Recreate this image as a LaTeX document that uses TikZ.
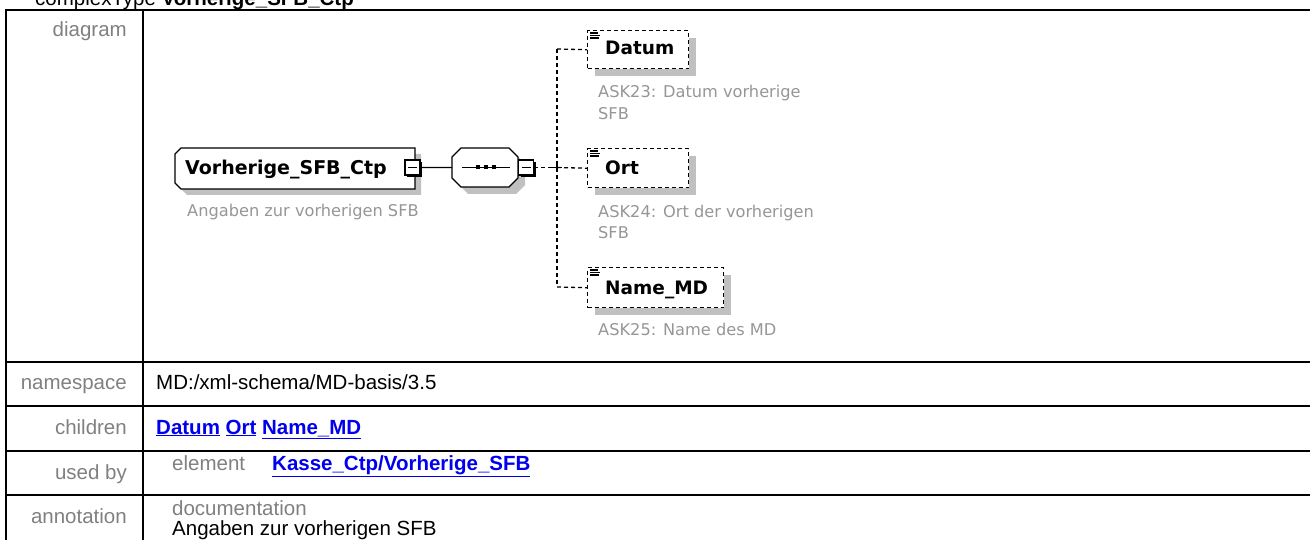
\documentclass[tikz,border=0pt]{standalone}
\usepackage{fontspec}
\setmainfont{Liberation Sans}
\newfontfamily\dvfont{DejaVu Sans}
\usetikzlibrary{shadows}
\definecolor{labgray}{RGB}{128,128,128}
\definecolor{descgray}{RGB}{150,150,150}
\definecolor{shadowgray}{RGB}{192,192,192}
\definecolor{linkblue}{RGB}{0,0,238}
\begin{document}
\begin{tikzpicture}[x=1bp,y=-1bp,
  tbl/.style={line width=2bp, black},
  tabtext/.style={anchor=base west, inner sep=0, font=\fontsize{20.5bp}{24bp}\selectfont},
  lab/.style={anchor=base east, inner sep=0, text=labgray, font=\fontsize{20.5bp}{24bp}\selectfont},
  graytext/.style={tabtext, text=labgray},
  linktext/.style={tabtext, text=linkblue, font=\fontsize{20.5bp}{24bp}\selectfont\bfseries},
  mainname/.style={anchor=base west, inner sep=0, font=\dvfont\bfseries\fontsize{19bp}{22bp}\selectfont},
  cname/.style={anchor=base west, inner sep=0, font=\dvfont\bfseries\fontsize{18.5bp}{22bp}\selectfont},
  desc/.style={anchor=base west, inner sep=0, text=descgray, font=\dvfont\fontsize{16.2bp}{21.7bp}\selectfont, align=left},
  boxline/.style={line width=1.3bp, black},
  conn/.style={line width=1.2bp, black},
  dconn/.style={line width=1.3bp, black, dash pattern=on 4bp off 3bp},
  childbox/.style={draw, line width=1.4bp, dash pattern=on 4bp off 3bp, fill=white, inner sep=0, anchor=north west,
     general shadow={fill=shadowgray, shadow xshift=7bp, shadow yshift=-7bp}},
  minusbox/.style={draw, fill=white, line width=1.3bp, minimum size=15bp, inner sep=0,
     general shadow={fill=black, shadow xshift=2.2bp, shadow yshift=-2.2bp},
     path picture={\draw[line width=1.2bp] ([xshift=3bp]path picture bounding box.west) -- ([xshift=-3bp]path picture bounding box.east);}},
  hidden/.style={inner sep=0, outer sep=0, anchor=north west}
]
\useasboundingbox (0,0) rectangle (1310,540);
\clip (0,0) rectangle (1310,540);

% ---------- title (cut at the top) ----------
\node[tabtext] (title) at (35,5.5) {complexType \textbf{Vorherige\_SFB\_Ctp}};

% ---------- table grid ----------
\draw[tbl] (6,10) rectangle (1340,570);
\draw[tbl] (143,10) -- (143,570);
\draw[tbl] (6,361.5) -- (1340,361.5);
\draw[tbl] (6,406) -- (1340,406);
\draw[tbl] (6,451) -- (1340,451);
\draw[tbl] (6,495) -- (1340,495);

% ---------- row labels ----------
\node[lab] (ldiagram) at (127,37) {diagram};
\node[lab] (lns) at (127,389) {namespace};
\node[lab] (lchildren) at (127,434) {children};
\node[lab] (lusedby) at (127,479) {used by};
\node[lab] (lannot) at (127,523.5) {annotation};

% ---------- row contents ----------
\node[tabtext] (ns) at (156,389) {MD:/xml-schema/MD-basis/3.5};
\node[linktext] (childlinks) at (156,434) {\underline{Datum} \underline{Ort} \underline{Name\_MD}};
\node[graytext] (elem) at (172,470) {element};
\node[linktext] (usedlink) at (272,470) {\underline{Kasse\_Ctp/Vorherige\_SFB}};
\node[graytext] (docu) at (172,515) {documentation};
\node[tabtext] (annot) at (172,535.5) {Angaben zur vorherigen SFB};

% ---------- main complexType box ----------
\node[hidden, minimum width=240bp, minimum height=41bp] (mainbox) at (175,148) {};
\fill[shadowgray] (187,154) -- (421,154) -- (421,195) -- (187,195) -- (181,189) -- (181,160) -- cycle;
\filldraw[boxline, fill=white] (181,148) -- (415,148) -- (415,189) -- (181,189) -- (175,183) -- (175,154) -- cycle;
\node[mainname] (main) at (185,175) {Vorherige\_SFB\_Ctp};
\node[desc] (maindesc) at (187,217) {Angaben zur vorherigen SFB};
\node[minusbox] (mainm) at (412.5,167.5) {};

% ---------- sequence compositor ----------
\node[hidden, minimum width=66bp, minimum height=39bp] (seq) at (452,148) {};
\fill[shadowgray] (468,155) -- (516,155) -- (525,164) -- (525,185) -- (516,194) -- (468,194) -- (459,185) -- (459,164) -- cycle;
\filldraw[boxline, fill=white] (461,148) -- (509,148) -- (518,157) -- (518,178) -- (509,187) -- (461,187) -- (452,178) -- (452,157) -- cycle;
\draw[conn] (462,167.5) -- (510,167.5);
\fill (476,165.5) rectangle (480,169.5);
\fill (484,165.5) rectangle (488,169.5);
\fill (492,165.5) rectangle (496,169.5);
\node[minusbox] (seqm) at (526,167.5) {};

\draw[conn] (mainm.east) -- (seq.west);

% ---------- child elements ----------
\node[childbox, minimum width=101bp, minimum height=38bp] (datum) at (587,30) {};
\node[childbox, minimum width=101bp, minimum height=39bp] (ort) at (587,148) {};
\node[childbox, minimum width=136bp, minimum height=40bp] (name) at (587,267) {};

\foreach \bx/\by in {587/30, 587/148, 587/267}{
  \draw[line width=1.1bp] (\bx+3,\by+3) -- (\bx+11,\by+3);
  \draw[line width=1.1bp] (\bx+3,\by+5.5) -- (\bx+13,\by+5.5);
  \draw[line width=1.1bp] (\bx+3,\by+8) -- (\bx+12,\by+8);
}

\node[cname] (datumt) at (605,55) {Datum};
\node[cname] (ortt) at (605,174.5) {Ort};
\node[cname] (namet) at (605,294) {Name\_MD};

\node[desc] (datumd) at (598,119.5) {ASK23: Datum vorherige\\SFB};
\node[desc] (ortd) at (598,239) {ASK24: Ort der vorherigen\\SFB};
\node[desc] (named) at (598,335.5) {ASK25: Name des MD};

% ---------- connectors to children ----------
\coordinate (j) at (557,167.5);
\coordinate (jt) at (557,49);
\coordinate (jb) at (557,287);
\draw[dconn] (seqm.east) -- (j);
\draw[conn] ([xshift=-5bp]j) -- ([xshift=5bp]j);
\draw[conn] ([yshift=5bp]j) -- ([yshift=-5bp]j);
\draw[dconn] (jt) -- (jb);
\draw[dconn] (jt) -- (datum.west);
\draw[dconn] (j) -- (ort.west);
\draw[dconn] (jb) -- (name.west);
\end{tikzpicture}
\end{document}
